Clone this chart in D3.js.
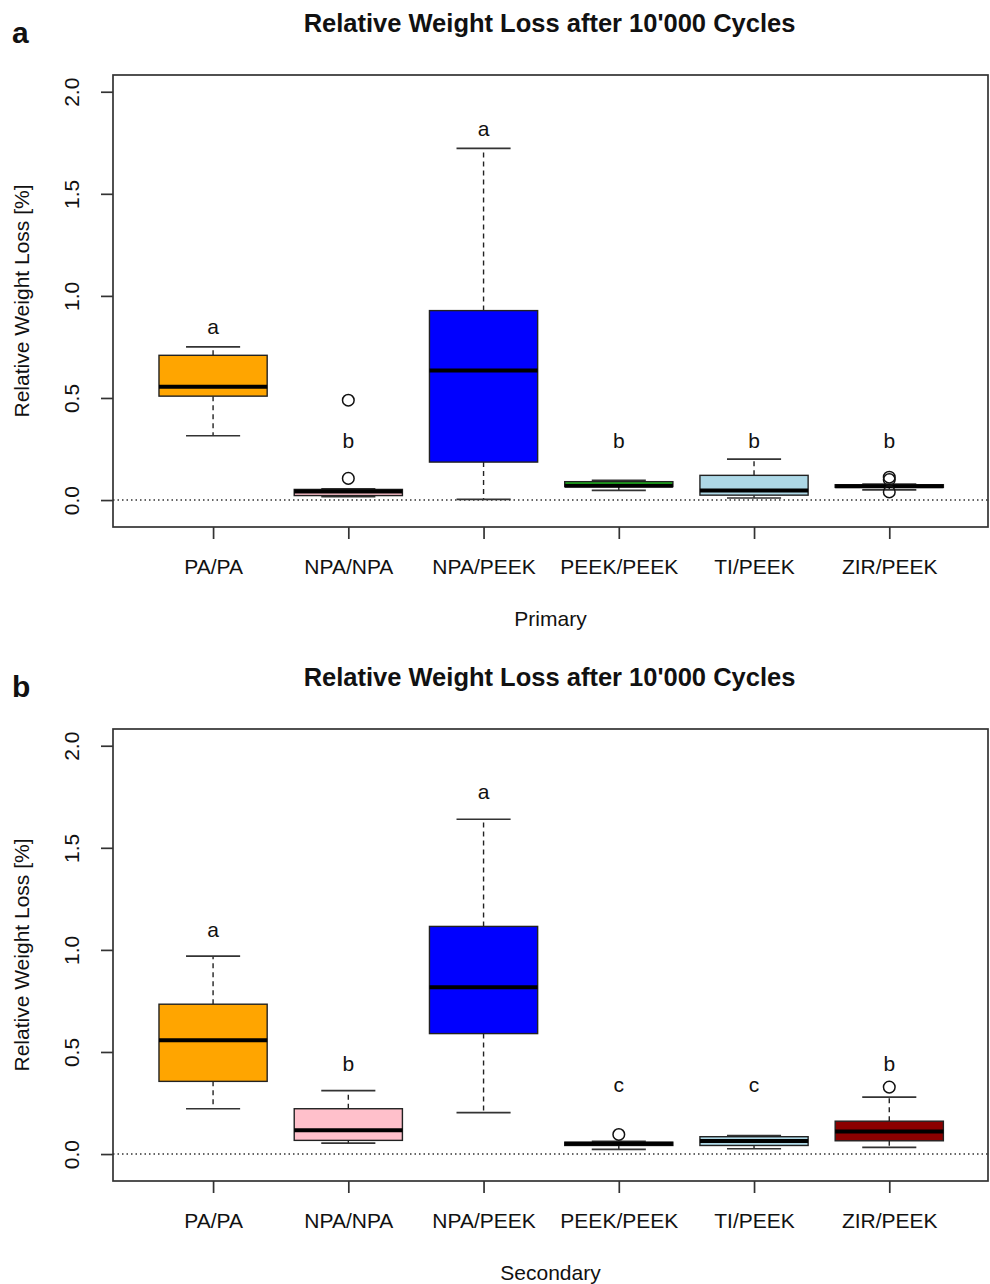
<!DOCTYPE html>
<html>
<head>
<meta charset="utf-8">
<script src="https://cdnjs.cloudflare.com/ajax/libs/d3/7.8.5/d3.min.js"></script>
<style>
  body { margin: 0; background: #fff; }
  text { font-family: "Liberation Sans", Arial, Helvetica, sans-serif; fill: #111; }
</style>
</head>
<body>
<div id="container"></div>
<script>
// groups on the x axis
var groups = ["PA/PA", "NPA/NPA", "NPA/PEEK", "PEEK/PEEK", "TI/PEEK", "ZIR/PEEK"];
var boxColors = ["orange", "pink", "blue", "#22c422", "lightblue", "darkred"];
var yTicks = [0, 0.5, 1.0, 1.5, 2.0];

// panel a - primary
var priLow  = [0.315, 0.017, 0.003, 0.047, 0.010, 0.050];
var priQ1   = [0.509, 0.022, 0.186, 0.066, 0.024, 0.062];
var priMed  = [0.555, 0.042, 0.634, 0.070, 0.047, 0.068];
var priQ3   = [0.709, 0.052, 0.928, 0.090, 0.121, 0.075];
var priHigh = [0.750, 0.055, 1.723, 0.097, 0.200, 0.078];
var priOut  = [[], [0.106, 0.489], [], [], [], [0.040, 0.100, 0.112]];
var priLetters = ["a", "b", "a", "b", "b", "b"];
var priLetterY = [0.85, 0.29, 1.82, 0.29, 0.29, 0.29];

// panel b - secondary
var secLow  = [0.222, 0.054, 0.203, 0.023, 0.026, 0.033];
var secQ1   = [0.356, 0.067, 0.590, 0.042, 0.042, 0.065];
var secMed  = [0.557, 0.116, 0.817, 0.050, 0.064, 0.110];
var secQ3   = [0.734, 0.222, 1.115, 0.058, 0.085, 0.161];
var secHigh = [0.969, 0.311, 1.640, 0.062, 0.090, 0.279];
var secOut  = [[], [], [], [0.096], [], [0.328]];
var secLetters = ["a", "b", "a", "c", "c", "b"];
var secLetterY = [1.10, 0.443, 1.775, 0.34, 0.34, 0.443];

var W = 990, H = 1284;
var svg = d3.select("#container").append("svg")
	.attr("width", W)
	.attr("height", H);

function makePanel(top, tag, xTitle, low, q1, med, q3, high, outs, letters, letterY) {
	var left = 113, right = 988, plotTop = top, plotBottom = top + 452;
	var g = svg.append("g");

	var x = d3.scaleLinear().domain([0.26, 6.73]).range([left, right]);
	var y = d3.scaleLinear().domain([-0.132, 2.082]).range([plotBottom, plotTop]);
	var boxW = (x(1.4) - x(1)); // half of 0.8 box width
	var stapleW = boxW / 2;

	var rows = groups.map(function(name, i) {
		return {name: name, i: i + 1, low: low[i], q1: q1[i], med: med[i], q3: q3[i],
			high: high[i], outs: outs[i], letter: letters[i], ly: letterY[i], color: boxColors[i]};
	});

	// panel tag + title
	g.append("text").attr("x", 12).attr("y", top - 32)
		.style("font-size", "30px").style("font-weight", "bold").text(tag);
	g.append("text").attr("x", (left + right) / 2 - 1).attr("y", top - 43)
		.attr("text-anchor", "middle")
		.style("font-size", "25.5px").style("font-weight", "bold")
		.text("Relative Weight Loss after 10'000 Cycles");

	// zero reference line
	g.append("line")
		.attr("x1", left).attr("x2", right)
		.attr("y1", y(0)).attr("y2", y(0))
		.attr("stroke", "#333").attr("stroke-width", 1.5)
		.attr("stroke-dasharray", "1.5,3");

	var box = g.selectAll("g.box").data(rows).enter().append("g").attr("class", "box");

	// whiskers
	box.append("line")
		.attr("x1", function(d) { return x(d.i); }).attr("x2", function(d) { return x(d.i); })
		.attr("y1", function(d) { return y(d.q3); }).attr("y2", function(d) { return y(d.high); })
		.attr("stroke", "#222").attr("stroke-width", 1.4).attr("stroke-dasharray", "5,4");
	box.append("line")
		.attr("x1", function(d) { return x(d.i); }).attr("x2", function(d) { return x(d.i); })
		.attr("y1", function(d) { return y(d.q1); }).attr("y2", function(d) { return y(d.low); })
		.attr("stroke", "#222").attr("stroke-width", 1.4).attr("stroke-dasharray", "5,4");
	// staples
	["high", "low"].forEach(function(k) {
		box.append("line")
			.attr("x1", function(d) { return x(d.i) - stapleW; })
			.attr("x2", function(d) { return x(d.i) + stapleW; })
			.attr("y1", function(d) { return y(d[k]); })
			.attr("y2", function(d) { return y(d[k]); })
			.attr("stroke", "#333").attr("stroke-width", 1.7);
	});

	// boxes
	box.append("rect")
		.attr("x", function(d) { return x(d.i) - boxW; })
		.attr("width", boxW * 2)
		.attr("y", function(d) { return y(d.q3); })
		.attr("height", function(d) { return y(d.q1) - y(d.q3); })
		.attr("fill", function(d) { return d.color; })
		.attr("stroke", "#222").attr("stroke-width", 1.4);

	// medians
	box.append("line")
		.attr("x1", function(d) { return x(d.i) - boxW; })
		.attr("x2", function(d) { return x(d.i) + boxW; })
		.attr("y1", function(d) { return y(d.med); })
		.attr("y2", function(d) { return y(d.med); })
		.attr("stroke", "#000").attr("stroke-width", 4);

	// outliers
	box.selectAll("circle").data(function(d) {
		return d.outs.map(function(v) { return {i: d.i, v: v}; });
	}).enter().append("circle")
		.attr("cx", function(d) { return x(d.i); })
		.attr("cy", function(d) { return y(d.v); })
		.attr("r", 5.8)
		.attr("fill", "none").attr("stroke", "#111").attr("stroke-width", 1.5);

	// significance letters
	box.append("text")
		.attr("x", function(d) { return x(d.i); })
		.attr("y", function(d) { return y(d.ly); })
		.attr("dy", "0.35em")
		.attr("text-anchor", "middle")
		.style("font-size", "21px")
		.text(function(d) { return d.letter; });

	// frame
	g.append("rect")
		.attr("x", left).attr("y", plotTop)
		.attr("width", right - left).attr("height", plotBottom - plotTop)
		.attr("fill", "none").attr("stroke", "#333").attr("stroke-width", 1.7);

	// y axis
	var yAxis = g.append("g")
		.attr("transform", "translate(" + left + ",0)")
		.call(d3.axisLeft(y).tickValues(yTicks).tickSize(12).tickFormat(d3.format(".1f")));
	yAxis.select(".domain").remove();
	yAxis.selectAll(".tick line").attr("stroke", "#333").attr("stroke-width", 1.7);
	yAxis.selectAll(".tick text")
		.attr("transform", "rotate(-90)")
		.attr("x", 0).attr("y", -41)
		.attr("dy", "0.35em")
		.attr("text-anchor", "middle")
		.style("font-size", "21px");

	// x axis
	var xAxis = g.append("g")
		.attr("transform", "translate(0," + plotBottom + ")")
		.call(d3.axisBottom(x).tickValues(d3.range(1, groups.length + 1)).tickSize(12)
			.tickFormat(function(d) { return groups[d - 1]; }));
	xAxis.select(".domain").remove();
	xAxis.selectAll(".tick line").attr("stroke", "#333").attr("stroke-width", 1.7);
	xAxis.selectAll(".tick text")
		.attr("y", 47).attr("dy", "0")
		.style("font-size", "21px");

	// axis titles
	g.append("text")
		.attr("x", (left + right) / 2).attr("y", plotBottom + 99)
		.attr("text-anchor", "middle")
		.style("font-size", "21px")
		.text(xTitle);
	g.append("text")
		.attr("transform", "translate(22," + ((plotTop + plotBottom) / 2) + ") rotate(-90)")
		.attr("dy", "0.35em")
		.attr("text-anchor", "middle")
		.style("font-size", "21px")
		.text("Relative Weight Loss [%]");
}

makePanel(75, "a", "Primary", priLow, priQ1, priMed, priQ3, priHigh, priOut, priLetters, priLetterY);
makePanel(729, "b", "Secondary", secLow, secQ1, secMed, secQ3, secHigh, secOut, secLetters, secLetterY);
</script>
</body>
</html>
